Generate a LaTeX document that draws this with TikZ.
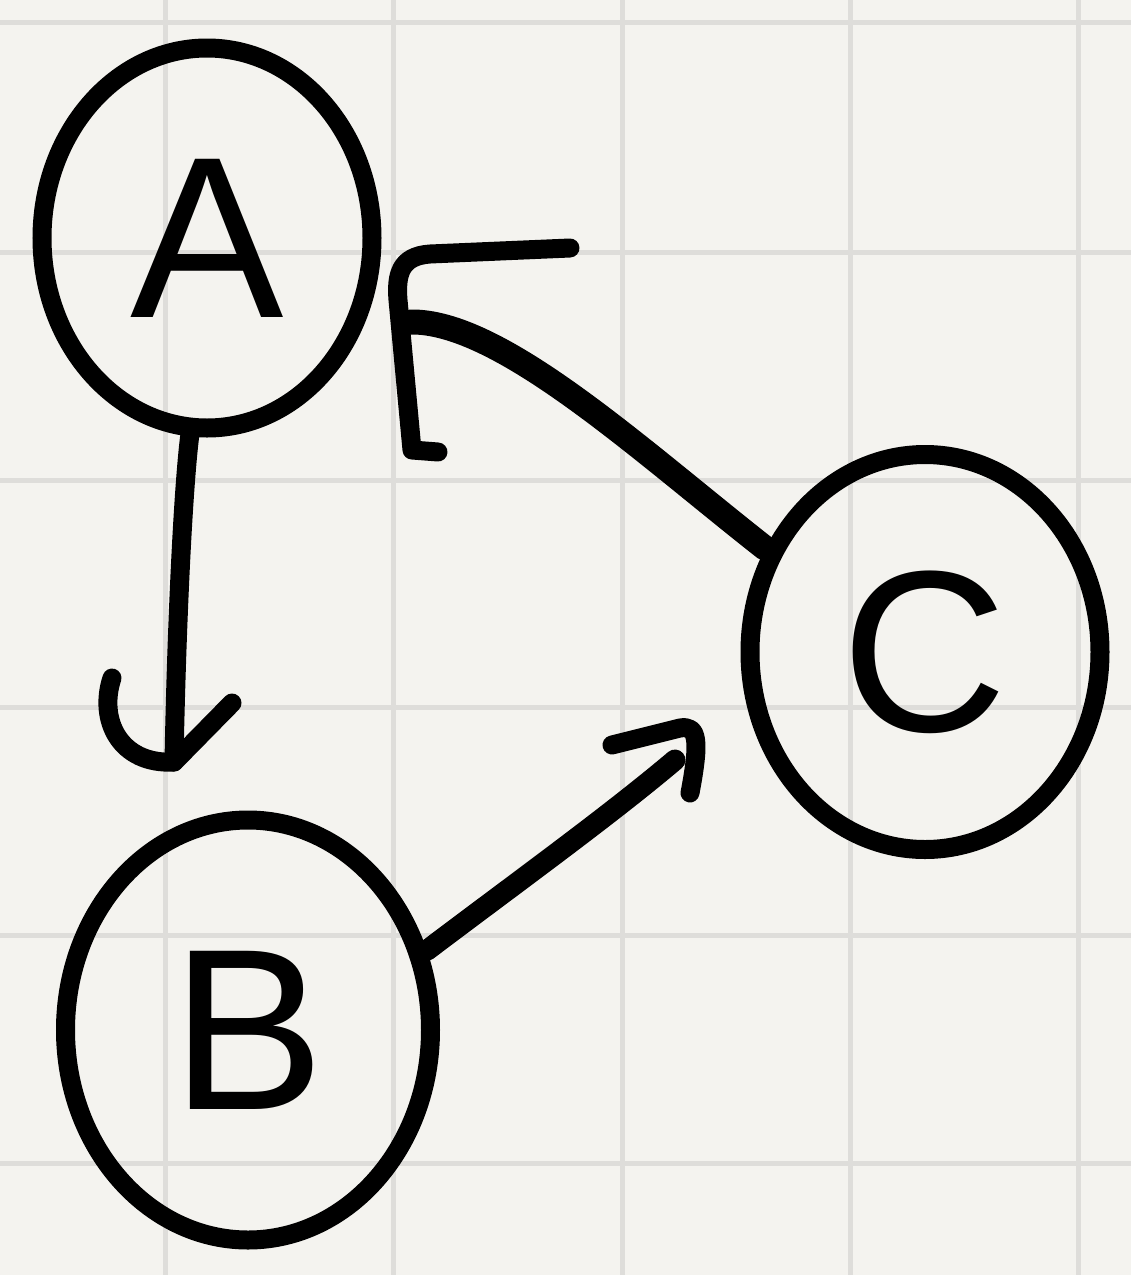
\documentclass[tikz,border=0pt]{standalone}
\usepackage{fontspec}
\setmainfont{Liberation Sans}
\usetikzlibrary{shapes.geometric}
\definecolor{paper}{HTML}{F4F3EF}
\definecolor{gridc}{HTML}{DEDDDA}
\begin{document}
\begin{tikzpicture}[x=1pt,y=-1pt,
 vtx/.style={ellipse, draw=black, line width=19pt, inner sep=0pt},
 ink/.style={draw=black, line width=19pt, line cap=round, line join=round},
 lbl/.style={font=\fontsize{230}{230}\selectfont}]
\fill[paper] (0,0) rectangle (1131,1275);
\useasboundingbox (0,0) rectangle (1131,1275);
\foreach \x in {165,393,622,850,1078} \draw[gridc,line width=5pt] (\x,0) -- (\x,1275);
\foreach \y in {22,252,480,707,935,1163} \draw[gridc,line width=5pt] (0,\y) -- (1131,\y);
% nodes
\node[vtx, minimum width=330pt, minimum height=380pt, lbl] (A) at (207,238) {A};
\node[vtx, minimum width=365pt, minimum height=420pt, lbl] (B) at (248,1030) {B};
\node[vtx, minimum width=350pt, minimum height=395pt, lbl] (C) at (925,652) {C};
% end points of connectors
\coordinate (tB) at (174,762);
\coordinate (tC) at (675,760);
\coordinate (tA) at (410,322);
% A -> B
\draw[ink] (A.-95) .. controls (182,500) and (176,650) .. (tB);
\draw[ink] (112,678) .. controls (98,720) and (120,765) .. (tB) -- (232,703);
% B -> C
\draw[ink, line width=21pt] (B.24) .. controls (520,880) and (610,815) .. (tC);
\draw[ink] (612,745) -- (680,728) .. controls (698,725) and (700,740) .. (690,793);
% C -> A
\draw[ink, line width=25pt] (C.147) .. controls (640,450) and (500,320) .. (tA);
\draw[ink] (570,248) -- (430,254) .. controls (400,256) and (396,275) .. (398,300) -- (412,450) -- (438,452);
\end{tikzpicture}
\end{document}
